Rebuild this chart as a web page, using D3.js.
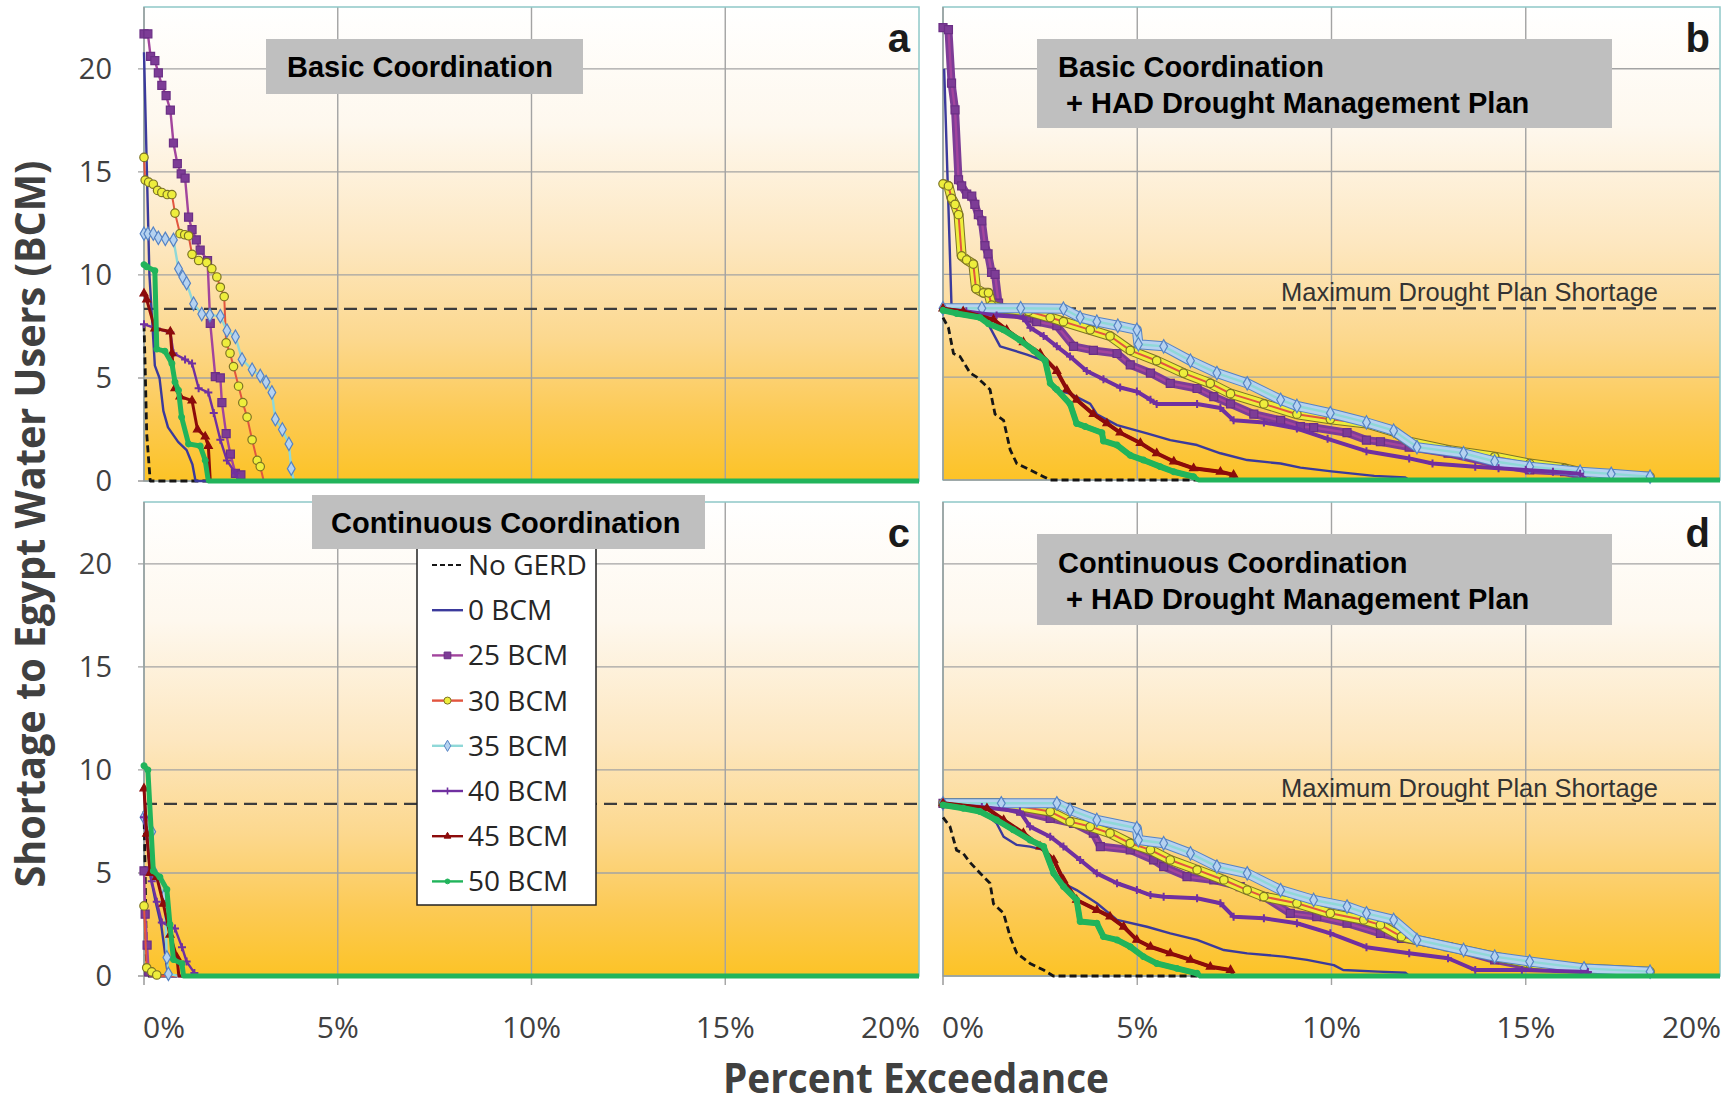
<!DOCTYPE html>
<html>
<head>
<meta charset="utf-8">
<script src="https://cdn.jsdelivr.net/npm/d3@7"></script>
<style>
  body { margin: 0; background: #ffffff; }
  svg { display: block; }
</style>
</head>
<body>
<svg id="chart" width="1735" height="1106"></svg>
<script>
// series names, in drawing order (green 50 BCM ends up on top)
const SERIES = ["No GERD", "0 BCM", "25 BCM", "30 BCM", "35 BCM", "40 BCM", "45 BCM", "50 BCM"];
const X_TICKS = [0, 5, 10, 15, 20];
const Y_TICKS = [0, 5, 10, 15, 20];
const X_MAX = 20;
const Y_MAX = 23;
const DROUGHT_PLAN_MAX = 8.35;

// each point: [percent exceedance, shortage BCM]
// panel a: Basic Coordination
const aNoGerd = [[0, 7.6], [0.03, 5.5], [0.07, 2.3], [0.16, 0], [20, 0]];
const aBcm0 = [[0, 20.8], [0.14, 10.0], [0.28, 5.6], [0.4, 5.0], [0.5, 3.4], [0.62, 2.6], [0.88, 1.9], [1.1, 1.5], [1.25, 0.8], [1.33, 0], [20, 0]];
const aBcm25 = [[0, 21.7], [0.1, 21.7], [0.17, 20.6], [0.28, 20.4], [0.37, 19.8], [0.46, 19.2], [0.57, 18.7], [0.68, 18.0], [0.76, 16.4], [0.86, 15.4], [0.96, 14.9], [1.06, 14.7], [1.15, 12.8], [1.24, 12.2], [1.35, 11.7], [1.45, 11.2], [1.64, 10.7], [1.71, 7.65], [1.84, 5.06], [1.97, 5.0], [2.01, 3.8], [2.12, 2.3], [2.23, 1.3], [2.36, 0.37], [2.5, 0.3], [2.6, 0], [20, 0]];
const aBcm30 = [[0, 15.7], [0.03, 14.6], [0.12, 14.5], [0.24, 14.4], [0.35, 14.1], [0.46, 14.0], [0.6, 13.9], [0.72, 13.9], [0.8, 13.0], [0.93, 12.0], [1.05, 11.95], [1.15, 11.9], [1.24, 11.0], [1.41, 10.7], [1.62, 10.6], [1.75, 10.3], [1.88, 9.9], [1.97, 9.4], [2.07, 8.95], [2.12, 6.7], [2.22, 6.2], [2.31, 5.55], [2.44, 4.6], [2.55, 3.8], [2.66, 3.1], [2.79, 2.0], [2.92, 1.0], [3.0, 0.7], [3.09, 0], [20, 0]];
const aBcm35 = [[0, 12.0], [0.1, 12.0], [0.24, 12.0], [0.37, 11.8], [0.55, 11.75], [0.76, 11.7], [0.89, 10.3], [1.0, 9.9], [1.1, 9.6], [1.28, 8.6], [1.49, 8.1], [1.7, 8.05], [1.97, 8.0], [2.14, 7.3], [2.36, 7.0], [2.53, 5.9], [2.79, 5.4], [3.0, 5.1], [3.15, 4.8], [3.3, 4.3], [3.39, 3.0], [3.57, 2.5], [3.74, 1.8], [3.8, 0.6], [3.87, 0], [20, 0]];
const aBcm40 = [[0, 7.6], [0.33, 7.4], [0.68, 7.2], [0.76, 6.2], [1.06, 5.9], [1.24, 5.7], [1.41, 4.5], [1.66, 4.3], [1.8, 3.3], [1.97, 2.0], [2.14, 1.0], [2.36, 0.37], [2.44, 0], [20, 0]];
const aBcm45 = [[0, 9.1], [0.07, 8.8], [0.28, 7.4], [0.68, 7.25], [0.72, 6.2], [0.8, 4.5], [0.93, 4.1], [1.24, 3.9], [1.38, 2.5], [1.58, 2.15], [1.66, 1.7], [1.71, 0], [20, 0]];
const aBcm50 = [[0, 10.5], [0.07, 10.4], [0.28, 10.2], [0.33, 6.4], [0.54, 6.3], [0.72, 5.7], [0.8, 4.8], [0.89, 4.4], [0.97, 3.1], [1.15, 1.8], [1.45, 1.7], [1.58, 1.0], [1.66, 0], [20, 0]];

// panel b: Basic Coordination + HAD Drought Management Plan
const bNoGerd = [[0, 7.9], [0.14, 7.4], [0.27, 6.15], [0.44, 6.0], [0.7, 5.2], [0.87, 5.0], [1.04, 4.7], [1.21, 4.4], [1.34, 3.2], [1.56, 2.9], [1.73, 1.46], [1.9, 0.8], [2.24, 0.49], [2.59, 0.16], [2.76, 0], [20, 0]];
const bBcm0 = [[0.03, 20.0], [0.22, 8.4], [0.6, 8.35], [1.0, 8.1], [1.13, 7.7], [1.47, 6.5], [2.16, 6.1], [2.59, 5.8], [2.85, 4.4], [3.27, 4.2], [3.79, 3.7], [3.96, 3.2], [4.48, 2.67], [5.25, 2.27], [5.85, 1.94], [6.54, 1.7], [7.14, 1.3], [7.83, 0.97], [8.69, 0.8], [9.2, 0.6], [10.0, 0.42], [11.1, 0.2], [11.9, 0.12], [12.0, 0], [20, 0]];
const bBcm25 = [[0, 22.0], [0.14, 21.9], [0.22, 19.3], [0.31, 18.0], [0.4, 14.6], [0.48, 14.3], [0.61, 13.9], [0.74, 13.8], [0.82, 13.4], [0.91, 12.9], [1.0, 12.6], [1.08, 11.4], [1.16, 11.0], [1.25, 10.1], [1.34, 10.0], [1.43, 8.6], [1.47, 8.25], [1.8, 8.1], [2.16, 7.9], [2.41, 7.7], [2.93, 7.5], [3.36, 6.5], [3.87, 6.3], [4.48, 6.15], [4.82, 5.6], [5.34, 5.2], [5.85, 4.7], [6.54, 4.45], [6.97, 4.05], [7.4, 3.7], [8.0, 3.2], [8.69, 2.9], [9.2, 2.6], [9.54, 2.55], [10.4, 2.3], [10.9, 1.94], [11.26, 1.86], [12.0, 1.6], [13.0, 1.3], [14.2, 0.8], [15.1, 0.49], [16.0, 0.4], [16.5, 0.16], [16.6, 0], [20, 0]];
const bBcm30 = [[0, 14.4], [0.14, 14.3], [0.22, 13.7], [0.31, 13.4], [0.4, 12.9], [0.48, 10.9], [0.61, 10.7], [0.78, 10.5], [0.85, 9.3], [1.04, 9.1], [1.17, 9.1], [1.25, 8.5], [1.5, 8.35], [2.2, 8.2], [2.76, 7.9], [3.1, 7.7], [3.79, 7.3], [4.3, 7.0], [4.82, 6.3], [5.5, 5.8], [6.19, 5.2], [6.88, 4.7], [7.4, 4.2], [8.26, 3.7], [9.11, 3.2], [9.97, 2.95], [10.9, 2.75], [11.6, 2.35], [12.0, 1.86], [13.0, 1.46], [14.2, 1.13], [15.1, 0.8], [16.0, 0.57], [16.6, 0.3], [17.4, 0.22], [18.2, 0.16], [18.3, 0], [20, 0]];
const bBcm35 = [[0, 8.35], [1.0, 8.35], [2.0, 8.35], [3.1, 8.33], [3.53, 7.9], [3.96, 7.7], [4.5, 7.5], [4.99, 7.3], [5.03, 6.6], [5.68, 6.5], [6.37, 5.8], [7.05, 5.2], [7.83, 4.7], [8.69, 3.9], [9.11, 3.6], [9.97, 3.25], [10.9, 2.8], [11.6, 2.4], [12.2, 1.6], [13.4, 1.3], [14.2, 0.9], [15.1, 0.65], [16.4, 0.4], [17.2, 0.3], [18.2, 0.16], [18.3, 0], [20, 0]];
const bBcm40 = [[0, 8.3], [0.6, 8.2], [1.38, 8.0], [2.07, 7.9], [2.25, 7.4], [2.59, 7.0], [2.93, 6.5], [3.27, 6.0], [3.7, 5.3], [4.13, 4.9], [4.56, 4.5], [4.99, 4.3], [5.34, 3.9], [5.5, 3.7], [6.54, 3.7], [7.14, 3.5], [7.48, 2.9], [8.26, 2.8], [9.11, 2.5], [9.9, 2.0], [10.9, 1.4], [12.0, 1.05], [12.6, 0.8], [13.7, 0.65], [14.3, 0.57], [15.0, 0.49], [15.7, 0.4], [16.4, 0.3], [16.6, 0], [20, 0]];
const bBcm45 = [[0, 8.33], [0.52, 8.2], [1.3, 7.8], [1.64, 7.3], [2.07, 6.7], [2.5, 6.15], [2.93, 5.3], [3.19, 4.4], [3.44, 3.9], [3.87, 3.2], [4.22, 2.75], [4.56, 2.3], [5.08, 1.8], [5.5, 1.3], [5.94, 0.9], [6.45, 0.57], [7.14, 0.4], [7.48, 0.25], [7.5, 0], [20, 0]];
const bBcm50 = [[0, 8.25], [0.35, 8.1], [0.95, 7.9], [1.17, 7.6], [1.56, 7.3], [1.98, 6.8], [2.33, 6.3], [2.63, 5.8], [2.76, 4.7], [2.93, 4.4], [3.27, 3.7], [3.44, 2.75], [3.66, 2.6], [4.09, 2.3], [4.13, 1.9], [4.48, 1.7], [4.82, 1.2], [5.16, 0.97], [5.59, 0.65], [5.94, 0.4], [6.45, 0.16], [6.58, 0], [20, 0]];

// panel c: Continuous Coordination
const cNoGerd = [[0, 8.0], [0.03, 5.0], [0.06, 1.0], [0.1, 0], [20, 0]];
const cBcm0 = [[0, 9.0], [0.05, 7.8], [0.15, 5.0], [0.3, 3.6], [0.45, 2.4], [0.55, 1.0], [0.62, 0], [20, 0]];
const cBcm25 = [[0, 5.1], [0.03, 3.0], [0.08, 1.5], [0.12, 0.2], [0.15, 0], [20, 0]];
const cBcm30 = [[0, 3.4], [0.07, 0.4], [0.2, 0.2], [0.33, 0.05], [0.4, 0], [20, 0]];
const cBcm35 = [[0, 7.7], [0.2, 7.0], [0.24, 5.1], [0.53, 3.9], [0.59, 0.9], [0.63, 0.1], [0.9, 0], [20, 0]];
const cBcm40 = [[0, 7.7], [0.2, 4.6], [0.33, 3.6], [0.46, 2.6], [0.8, 2.3], [0.98, 1.4], [1.1, 0.7], [1.3, 0.15], [1.35, 0], [20, 0]];
const cBcm45 = [[0, 9.1], [0.07, 6.9], [0.16, 5.0], [0.33, 4.8], [0.5, 3.5], [0.67, 2.0], [0.85, 0.9], [0.9, 0], [20, 0]];
const cBcm50 = [[0, 10.2], [0.1, 10.0], [0.24, 5.1], [0.41, 4.8], [0.59, 4.2], [0.67, 2.5], [0.76, 0.8], [0.98, 0.6], [1.02, 0], [20, 0]];

// panel d: Continuous Coordination + HAD Drought Management Plan
const dNoGerd = [[0, 7.7], [0.18, 7.25], [0.35, 6.1], [0.52, 5.95], [0.7, 5.5], [0.95, 5.0], [1.21, 4.5], [1.3, 3.5], [1.56, 3.04], [1.73, 1.9], [1.9, 1.1], [2.24, 0.61], [2.59, 0.29], [2.84, 0], [20, 0]];
const dBcm0 = [[0, 8.38], [0.95, 8.06], [1.38, 7.41], [1.56, 6.76], [1.9, 6.36], [2.24, 6.28], [2.59, 6.12], [2.93, 4.66], [3.44, 4.17], [3.96, 3.53], [4.48, 2.72], [5.25, 2.39], [5.85, 2.07], [6.54, 1.75], [7.23, 1.26], [7.83, 1.1], [8.77, 0.94], [9.37, 0.78], [10.06, 0.53], [10.3, 0.29], [11.2, 0.21], [11.9, 0.16], [12.0, 0], [20, 0]];
const dBcm25 = [[0, 8.38], [1.38, 8.3], [2.0, 8.0], [2.76, 7.65], [3.36, 7.41], [3.87, 6.93], [4.05, 6.28], [4.82, 6.12], [5.42, 5.63], [5.68, 5.31], [6.28, 4.82], [6.97, 4.66], [7.65, 4.34], [8.26, 3.85], [8.94, 3.04], [9.62, 2.88], [10.4, 2.56], [11.26, 2.07], [11.8, 1.83], [13.0, 1.42], [14.2, 0.78], [15.1, 0.45], [16.5, 0.29], [16.6, 0], [20, 0]];
const dBcm30 = [[0, 8.38], [1.5, 8.38], [2.76, 7.98], [3.27, 7.49], [3.79, 7.25], [4.3, 6.93], [4.82, 6.44], [5.34, 6.12], [5.85, 5.63], [6.54, 5.15], [7.23, 4.66], [7.83, 4.17], [8.26, 3.85], [9.11, 3.53], [9.97, 3.04], [10.83, 2.72], [11.26, 2.48], [11.8, 1.91], [13.0, 1.42], [14.2, 0.94], [15.1, 0.61], [16.5, 0.37], [18.2, 0.21], [18.3, 0], [20, 0]];
const dBcm35 = [[0, 8.38], [1.5, 8.38], [2.93, 8.38], [3.27, 8.06], [3.96, 7.57], [4.99, 7.17], [5.03, 6.6], [5.68, 6.44], [6.37, 5.95], [7.05, 5.31], [7.83, 4.98], [8.69, 4.17], [9.54, 3.69], [10.4, 3.37], [10.9, 3.04], [11.6, 2.72], [12.2, 1.75], [13.4, 1.26], [14.2, 0.94], [15.1, 0.7], [16.5, 0.37], [18.2, 0.21], [18.3, 0], [20, 0]];
const dBcm40 = [[0, 8.3], [1.0, 8.2], [1.98, 7.98], [2.24, 7.25], [2.76, 6.76], [3.1, 6.28], [3.53, 5.63], [3.96, 4.98], [4.48, 4.5], [4.99, 4.17], [5.34, 3.93], [5.68, 3.85], [6.54, 3.77], [7.14, 3.53], [7.48, 2.88], [8.26, 2.8], [9.11, 2.56], [9.97, 2.07], [10.9, 1.4], [12.0, 1.1], [13.0, 0.86], [13.7, 0.29], [14.9, 0.29], [16.6, 0.2], [16.7, 0], [20, 0]];
const dBcm45 = [[0, 8.38], [1.13, 8.14], [1.56, 7.57], [2.07, 6.93], [2.5, 6.28], [2.85, 5.63], [3.1, 4.66], [3.44, 3.69], [3.96, 3.2], [4.3, 2.88], [4.65, 2.39], [4.99, 1.75], [5.34, 1.42], [5.85, 1.1], [6.37, 0.78], [6.88, 0.45], [7.4, 0.29], [7.48, 0], [20, 0]];
const dBcm50 = [[0, 8.3], [0.52, 8.14], [0.95, 7.98], [1.38, 7.57], [1.81, 7.09], [2.24, 6.6], [2.59, 6.28], [2.85, 4.98], [3.1, 4.34], [3.44, 3.69], [3.53, 2.64], [3.96, 2.56], [4.13, 1.91], [4.48, 1.75], [4.82, 1.42], [5.16, 0.94], [5.5, 0.61], [6.02, 0.37], [6.54, 0.13], [6.62, 0], [20, 0]];

const SERIES_STYLES = {
  "No GERD": { color: "#161616", width: 2.8, dash: "7 4" },
  "0 BCM": { color: "#3b3a9c", width: 2.4 },
  "25 BCM": { color: "#a2459d", width: 2.4, marker: "square", size: 64, fill: "#7d3c96", stroke: "#6b2f85", band: 8 },
  "30 BCM": { color: "#e2553f", width: 2, marker: "circle", size: 56, fill: "#eeee3c", stroke: "#7d7424", band: 8 },
  "35 BCM": { color: "#8fd8d8", width: 2.4, marker: "diamond", size: 52, fill: "#b5d2f0", stroke: "#5683c4", band: 8 },
  "40 BCM": { color: "#7030a0", width: 2.4, marker: "plus", size: 8, fill: "none", stroke: "#7030a0", band: 4 },
  "45 BCM": { color: "#8c0b0b", width: 3, marker: "triangle", size: 28, fill: "#8c0b0b", stroke: "#8c0b0b", band: 4 },
  "50 BCM": { color: "#21b45b", width: 5, marker: "circle", size: 26, fill: "#21b45b", stroke: "#21b45b", band: 6 },
};

const PANELS = [
  {
    letter: "a", left: 144, right: 919, top: 7, bottom: 481,
    data: [aNoGerd, aBcm0, aBcm25, aBcm30, aBcm35, aBcm40, aBcm45, aBcm50],
    title: ["Basic Coordination"], box: [266, 39, 317, 55], textX: [287], textY: [77],
    yLabels: true, xLabels: false, droughtLabel: false, dense: false,
  },
  {
    letter: "b", left: 943, right: 1720, top: 7, bottom: 480,
    data: [bNoGerd, bBcm0, bBcm25, bBcm30, bBcm35, bBcm40, bBcm45, bBcm50],
    title: ["Basic Coordination", "+ HAD Drought Management Plan"], box: [1037, 39, 575, 89], textX: [1058, 1066], textY: [77, 113],
    yLabels: false, xLabels: false, droughtLabel: true, dense: true,
  },
  {
    letter: "c", left: 144, right: 919, top: 502, bottom: 976,
    data: [cNoGerd, cBcm0, cBcm25, cBcm30, cBcm35, cBcm40, cBcm45, cBcm50],
    title: ["Continuous Coordination"], box: [312, 495, 393, 54], textX: [331], textY: [533],
    yLabels: true, xLabels: true, droughtLabel: false, dense: false, legend: true,
  },
  {
    letter: "d", left: 943, right: 1720, top: 502, bottom: 976,
    data: [dNoGerd, dBcm0, dBcm25, dBcm30, dBcm35, dBcm40, dBcm45, dBcm50],
    title: ["Continuous Coordination", "+ HAD Drought Management Plan"], box: [1037, 534, 575, 91], textX: [1058, 1066], textY: [573, 609],
    yLabels: false, xLabels: true, droughtLabel: true, dense: true,
  },
];

const svg = d3.select("#chart");
const defs = svg.append("defs");

const grad = defs
  .append("linearGradient")
  .attr("id", "plot-bg")
  .attr("x1", 0)
  .attr("y1", 0)
  .attr("x2", 0)
  .attr("y2", 1);

[
  [0, "#ffffff"],
  [0.25, "#fef8ee"],
  [0.5, "#fde7c0"],
  [0.7, "#fcd88e"],
  [0.86, "#fcca55"],
  [1, "#fcc326"],
].forEach(([offset, color]) => {
  grad.append("stop").attr("offset", offset).attr("stop-color", color);
});

function markerPath(style) {
  if (style.marker === "plus") {
    const h = style.size / 2;
    return `M${-h},0H${h}M0,${-h}V${h}`;
  }
  const types = {
    square: d3.symbolSquare,
    circle: d3.symbolCircle,
    diamond: d3.symbolDiamond,
    triangle: d3.symbolTriangle,
  };
  return d3.symbol().type(types[style.marker]).size(style.size)();
}

function drawSeries(group, points, style, x, y, dense) {
  const line = d3
    .line()
    .x((d) => x(d[0]))
    .y((d) => y(d[1]));

  // dense panels: the markers overlap into a solid band
  if (dense && style.band) {
    const above = points.filter((d) => d[1] > 0);
    if (style.marker === "circle" || style.marker === "diamond") {
      if (style.fill !== style.stroke) {
        group.append("path").datum(above).attr("d", line).attr("fill", "none")
          .attr("stroke", style.stroke).attr("stroke-width", style.band + 2).attr("stroke-linejoin", "round");
      }
    }
    group.append("path").datum(above).attr("d", line).attr("fill", "none")
      .attr("stroke", style.fill === "none" ? style.stroke : style.fill)
      .attr("stroke-width", style.band).attr("stroke-linejoin", "round");
  }

  group
    .append("path")
    .datum(points)
    .attr("d", line)
    .attr("fill", "none")
    .attr("stroke", style.color)
    .attr("stroke-width", style.width)
    .attr("stroke-dasharray", style.dash || null)
    .attr("stroke-linejoin", "round");

  if (style.marker) {
    group
      .append("g")
      .selectAll("path")
      .data(points.filter((d) => d[1] > 0))
      .join("path")
      .attr("transform", (d) => `translate(${x(d[0])},${y(d[1])})`)
      .attr("d", markerPath(style))
      .attr("fill", style.fill)
      .attr("stroke", style.stroke)
      .attr("stroke-width", style.marker === "plus" ? 2 : 1.2);
  }
}

function drawLegend(group) {
  const left = 417;
  const top = 544;
  const rowStep = 45.2;

  group
    .append("rect")
    .attr("x", left)
    .attr("y", top)
    .attr("width", 179)
    .attr("height", 361)
    .attr("fill", "#ffffff")
    .attr("stroke", "#222222")
    .attr("stroke-width", 1.5);

  const rows = group
    .selectAll("g.legend-row")
    .data(SERIES)
    .join("g")
    .attr("class", "legend-row")
    .attr("transform", (d, i) => `translate(0,${565 + i * rowStep})`);

  rows.each(function (name) {
    const row = d3.select(this);
    const style = SERIES_STYLES[name];
    row
      .append("line")
      .attr("x1", 432)
      .attr("x2", 463)
      .attr("stroke", style.color)
      .attr("stroke-width", name === "No GERD" ? 2.2 : 2.4)
      .attr("stroke-dasharray", name === "No GERD" ? "5 3" : null);
    if (style.marker) {
      const small = { ...style, size: style.marker === "plus" ? 7 : style.size * 0.7 };
      row
        .append("path")
        .attr("transform", "translate(447.5,0)")
        .attr("d", markerPath(small))
        .attr("fill", style.fill)
        .attr("stroke", style.stroke)
        .attr("stroke-width", style.marker === "plus" ? 1.6 : 1);
    }
    row
      .append("text")
      .attr("x", 468)
      .attr("y", 10)
      .attr("font-family", "'Open Sans', sans-serif")
      .attr("font-size", 28)
      .attr("fill", "#262626")
      .text(name);
  });
}

function drawPanel(panel) {
  const x = d3.scaleLinear().domain([0, X_MAX]).range([panel.left, panel.right]);
  const y = d3.scaleLinear().domain([0, Y_MAX]).range([panel.bottom, panel.top]);
  const g = svg.append("g").attr("class", `panel panel-${panel.letter}`);

  g.append("rect")
    .attr("x", panel.left)
    .attr("y", panel.top)
    .attr("width", panel.right - panel.left)
    .attr("height", panel.bottom - panel.top)
    .attr("fill", "url(#plot-bg)");

  // grid
  g.append("g")
    .selectAll("line")
    .data(Y_TICKS.filter((v) => v > 0))
    .join("line")
    .attr("x1", panel.yLabels ? panel.left - 6 : panel.left)
    .attr("x2", panel.right)
    .attr("y1", (d) => y(d))
    .attr("y2", (d) => y(d))
    .attr("stroke", "#a3a3a3")
    .attr("stroke-width", 1.4);

  g.append("g")
    .selectAll("line")
    .data(X_TICKS.filter((v) => v > 0 && v < X_MAX))
    .join("line")
    .attr("x1", (d) => x(d))
    .attr("x2", (d) => x(d))
    .attr("y1", panel.top)
    .attr("y2", panel.xLabels ? panel.bottom + 9 : panel.bottom)
    .attr("stroke", "#a3a3a3")
    .attr("stroke-width", 1.4);

  // border and axes
  g.append("rect")
    .attr("x", panel.left)
    .attr("y", panel.top)
    .attr("width", panel.right - panel.left)
    .attr("height", panel.bottom - panel.top)
    .attr("fill", "none")
    .attr("stroke", "#8fc8c8")
    .attr("stroke-width", 1.5);

  g.append("line")
    .attr("x1", panel.left)
    .attr("x2", panel.left)
    .attr("y1", panel.top)
    .attr("y2", panel.xLabels ? panel.bottom + 9 : panel.bottom)
    .attr("stroke", "#9a9a9a")
    .attr("stroke-width", 1.5);

  g.append("line")
    .attr("x1", panel.yLabels ? panel.left - 6 : panel.left)
    .attr("x2", panel.right)
    .attr("y1", panel.bottom)
    .attr("y2", panel.bottom)
    .attr("stroke", "#9a9a9a")
    .attr("stroke-width", 1.5);

  // maximum drought plan shortage
  g.append("line")
    .attr("x1", panel.left)
    .attr("x2", panel.right)
    .attr("y1", y(DROUGHT_PLAN_MAX))
    .attr("y2", y(DROUGHT_PLAN_MAX))
    .attr("stroke", "#3c3c3c")
    .attr("stroke-width", 2.2)
    .attr("stroke-dasharray", "13 7");

  if (panel.droughtLabel) {
    g.append("text")
      .attr("x", 1658)
      .attr("y", y(DROUGHT_PLAN_MAX) - 7)
      .attr("text-anchor", "end")
      .attr("font-family", "'Liberation Sans', Arial, sans-serif")
      .attr("font-size", 25.5)
      .attr("fill", "#333333")
      .text("Maximum Drought Plan Shortage");
  }

  const seriesGroup = g.append("g").attr("class", "series");
  SERIES.forEach((name, i) => {
    drawSeries(seriesGroup.append("g"), panel.data[i], SERIES_STYLES[name], x, y, panel.dense);
  });

  if (panel.yLabels) {
    g.append("g")
      .selectAll("text")
      .data(Y_TICKS)
      .join("text")
      .attr("x", 112)
      .attr("y", (d) => y(d))
      .attr("dy", "0.36em")
      .attr("text-anchor", "end")
      .attr("font-family", "'Open Sans', sans-serif")
      .attr("font-size", 29)
      .attr("fill", "#404040")
      .text((d) => d);
  }

  if (panel.xLabels) {
    g.append("g")
      .selectAll("text")
      .data(X_TICKS)
      .join("text")
      .attr("x", (d) => (d === 0 ? x(d) - 1 : d === X_MAX ? panel.right + 1 : x(d)))
      .attr("y", 1038)
      .attr("text-anchor", (d) => (d === 0 ? "start" : d === X_MAX ? "end" : "middle"))
      .attr("font-family", "'Open Sans', sans-serif")
      .attr("font-size", 30)
      .attr("fill", "#404040")
      .text((d) => `${d}%`);
  }

  if (panel.legend) {
    drawLegend(g.append("g").attr("class", "legend"));
  }

  const [bx, by, bw, bh] = panel.box;
  g.append("rect")
    .attr("x", bx)
    .attr("y", by)
    .attr("width", bw)
    .attr("height", bh)
    .attr("fill", "#bfbfbf");

  panel.title.forEach((line, i) => {
    g.append("text")
      .attr("x", panel.textX[i])
      .attr("y", panel.textY[i])
      .attr("font-family", "'Liberation Sans', Arial, sans-serif")
      .attr("font-weight", "bold")
      .attr("font-size", 29)
      .attr("fill", "#000000")
      .text(line);
  });

  g.append("text")
    .attr("x", panel.left === 144 ? 910 : 1710)
    .attr("y", panel.top + 45)
    .attr("text-anchor", "end")
    .attr("font-family", "'Liberation Sans', Arial, sans-serif")
    .attr("font-weight", "bold")
    .attr("font-size", 40)
    .attr("fill", "#1a1a1a")
    .text(panel.letter);
}

PANELS.forEach(drawPanel);

// axis titles
svg.append("text")
  .attr("transform", "translate(45,524) rotate(-90)")
  .attr("text-anchor", "middle")
  .attr("font-family", "'Open Sans', sans-serif")
  .attr("font-weight", "bold")
  .attr("font-size", 42)
  .attr("fill", "#404040")
  .attr("textLength", 727)
  .attr("lengthAdjust", "spacingAndGlyphs")
  .text("Shortage to Egypt Water Users (BCM)");

svg.append("text")
  .attr("x", 916)
  .attr("y", 1093)
  .attr("text-anchor", "middle")
  .attr("font-family", "'Open Sans', sans-serif")
  .attr("font-weight", "bold")
  .attr("font-size", 42)
  .attr("fill", "#404040")
  .attr("textLength", 386)
  .attr("lengthAdjust", "spacingAndGlyphs")
  .text("Percent Exceedance");
</script>
</body>
</html>
